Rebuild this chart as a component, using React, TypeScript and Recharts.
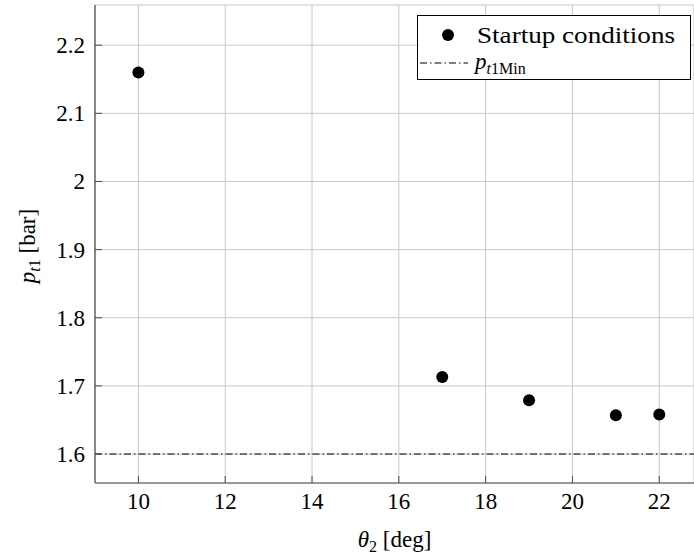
import React from "react";
import {
  ScatterChart, Scatter, XAxis, YAxis, CartesianGrid, ReferenceLine, Legend, Label,
} from "recharts";

// startup conditions
const theta2 = [10, 17, 19, 21, 22];
const pt1 = [2.16, 1.713, 1.679, 1.657, 1.658];
const pt1Min = 1.6;

const xTicks = [10, 12, 14, 16, 18, 20, 22];
const yTicks = [1.6, 1.7, 1.8, 1.9, 2, 2.1, 2.2];

const FONT = "'Liberation Serif', 'Times New Roman', serif";
const AXIS = "#4d4d4d";
const DASHDOT = "7 3 1.5 3";

const points = theta2.map((x, i) => ({ x, y: pt1[i] }));

function XTick({ x, y, payload }: any) {
  return (
    <g>
      <line x1={x} y1={y} x2={x} y2={y - 7} stroke={AXIS} strokeWidth={1} />
      <text x={x} y={y + 26} textAnchor="middle" fontFamily={FONT} fontSize={23} fill="#000">
        {payload.value}
      </text>
    </g>
  );
}

function YTick({ x, y, payload }: any) {
  return (
    <g>
      <line x1={x} y1={y} x2={x + 7} y2={y} stroke={AXIS} strokeWidth={1} />
      <text x={x - 10} y={y + 8} textAnchor="end" fontFamily={FONT} fontSize={23} fill="#000">
        {String(Number(payload.value.toFixed(1)))}
      </text>
    </g>
  );
}

function Dot({ cx, cy }: any) {
  return <circle cx={cx} cy={cy} r={6} fill="#000" />;
}

function LegendBox() {
  return (
    <svg width={274} height={65} style={{ display: "block" }}>
      <rect x={0.5} y={0.5} width={273} height={64} fill="#fff" stroke="#000" strokeWidth={1} />
      <circle cx={31} cy={20} r={6} fill="#000" />
      <text
        x={60}
        y={28}
        fontFamily={FONT}
        fontSize={23}
        fill="#000"
        textLength={198}
        lengthAdjust="spacingAndGlyphs"
      >
        Startup conditions
      </text>
      <line x1={3} y1={48} x2={51} y2={48} stroke="#000" strokeWidth={1} strokeDasharray={DASHDOT} />
      <text x={58} y={54} fontFamily={FONT} fontSize={23} fill="#000">
        <tspan fontStyle="italic">p</tspan>
        <tspan fontSize={16} dy={5} fontStyle="italic">t</tspan>
        <tspan fontSize={16}>1Min</tspan>
      </text>
    </svg>
  );
}

export default function App() {
  return (
    <div style={{ position: "absolute", left: 0, top: 0, width: 694, height: 554, background: "#fff" }}>
      <ScatterChart width={694} height={554} margin={{ top: 5, right: 0, bottom: 0, left: 0 }}>
        <CartesianGrid stroke="#c8c8c8" strokeWidth={1} />
        <XAxis
          type="number"
          dataKey="x"
          domain={[9, 22.8]}
          ticks={xTicks}
          interval={0}
          allowDataOverflow
          height={71}
          tickSize={0}
          tickMargin={0}
          tickLine={false}
          axisLine={{ stroke: AXIS, strokeWidth: 1.2 }}
          tick={<XTick />}
        >
          <Label
            content={({ viewBox }: any) => (
              <text
                x={viewBox.x + viewBox.width / 2}
                y={viewBox.y + 64}
                textAnchor="middle"
                fontFamily={FONT}
                fontSize={23}
                fill="#000"
              >
                <tspan fontStyle="italic">θ</tspan>
                <tspan fontSize={16} dy={5}>2</tspan>
                <tspan dy={-5}> [deg]</tspan>
              </text>
            )}
          />
        </XAxis>
        <YAxis
          type="number"
          dataKey="y"
          domain={[1.5575, 2.259]}
          ticks={yTicks}
          interval={0}
          allowDataOverflow
          width={95}
          tickSize={0}
          tickMargin={0}
          tickLine={false}
          axisLine={{ stroke: AXIS, strokeWidth: 1.2 }}
          tick={<YTick />}
        >
          <Label
            content={({ viewBox }: any) => {
              const cx = 35;
              const cy = viewBox.y + viewBox.height / 2 + 2;
              return (
                <text
                  x={cx}
                  y={cy}
                  transform={`rotate(-90, ${cx}, ${cy})`}
                  textAnchor="middle"
                  fontFamily={FONT}
                  fontSize={23}
                  fill="#000"
                >
                  <tspan fontStyle="italic">p</tspan>
                  <tspan fontSize={16} dy={5} fontStyle="italic">t</tspan>
                  <tspan fontSize={16}>1</tspan>
                  <tspan dy={-5}> [bar]</tspan>
                </text>
              );
            }}
          />
        </YAxis>
        <ReferenceLine y={pt1Min} stroke="#000" strokeWidth={1} strokeDasharray={DASHDOT} />
        <Scatter
          name="Startup conditions"
          data={points}
          fill="#000"
          shape={<Dot />}
          isAnimationActive={false}
        />
        <Legend
          layout="vertical"
          align="center"
          verticalAlign="middle"
          content={() => <LegendBox />}
          wrapperStyle={{ left: 417, top: 15, width: 274, height: 65 }}
        />
      </ScatterChart>
    </div>
  );
}
